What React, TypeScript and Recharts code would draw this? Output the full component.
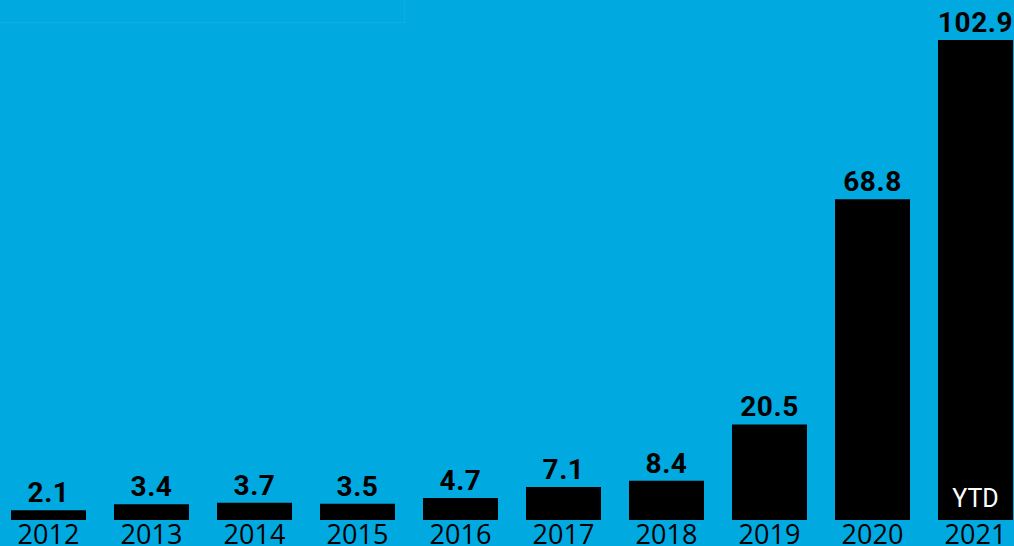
import { BarChart, Bar, XAxis, YAxis, LabelList } from 'recharts'

// ─── Data ─────────────────────────────────────────────────────────────────────

const years = ['2012', '2013', '2014', '2015', '2016', '2017', '2018', '2019', '2020', '2021']
const values = [2.1, 3.4, 3.7, 3.5, 4.7, 7.1, 8.4, 20.5, 68.8, 102.9]
const notes = ['', '', '', '', '', '', '', '', '', 'YTD']

const data = years.map((year, i) => ({ year, value: values[i], note: notes[i] }))

const BG = '#00a9e0'

export default function App() {
  return (
    <div
      style={{
        position: 'fixed',
        left: 0,
        top: 0,
        width: 1014,
        height: 546,
        background: BG,
        overflow: 'hidden',
      }}
    >
      {/* faint remnant of a cropped title box */}
      <div
        style={{
          position: 'absolute',
          left: -1,
          top: -1,
          width: 405,
          height: 23,
          borderRight: '1px solid rgba(255,255,255,0.06)',
          borderBottom: '1px solid rgba(255,255,255,0.06)',
        }}
      />
      <div style={{ position: 'absolute', left: -3.5, top: 0 }}>
        <BarChart
          width={1030}
          height={546}
          data={data}
          margin={{ top: 7, right: 0, bottom: 0, left: 0 }}
        >
          <XAxis
            dataKey="year"
            axisLine={false}
            tickLine={false}
            tickSize={0}
            tickMargin={5}
            height={26}
            interval={0}
            tick={{ fill: '#000', fontSize: 27, fontFamily: 'Open Sans' }}
          />
          <YAxis hide domain={[0, 110]} />
          <Bar dataKey="value" fill="#000" barSize={75} isAnimationActive={false}>
            <LabelList
              dataKey="value"
              position="top"
              offset={8}
              formatter={(v: number) => v.toFixed(1)}
              style={{ fill: '#000', fontSize: 28, fontWeight: 700, fontFamily: 'Roboto', letterSpacing: 0.6 }}
            />
            <LabelList
              dataKey="note"
              position="insideBottom"
              offset={13}
              style={{ fill: '#fff', fontSize: 25, fontFamily: 'Roboto' }}
            />
          </Bar>
        </BarChart>
      </div>
    </div>
  )
}
